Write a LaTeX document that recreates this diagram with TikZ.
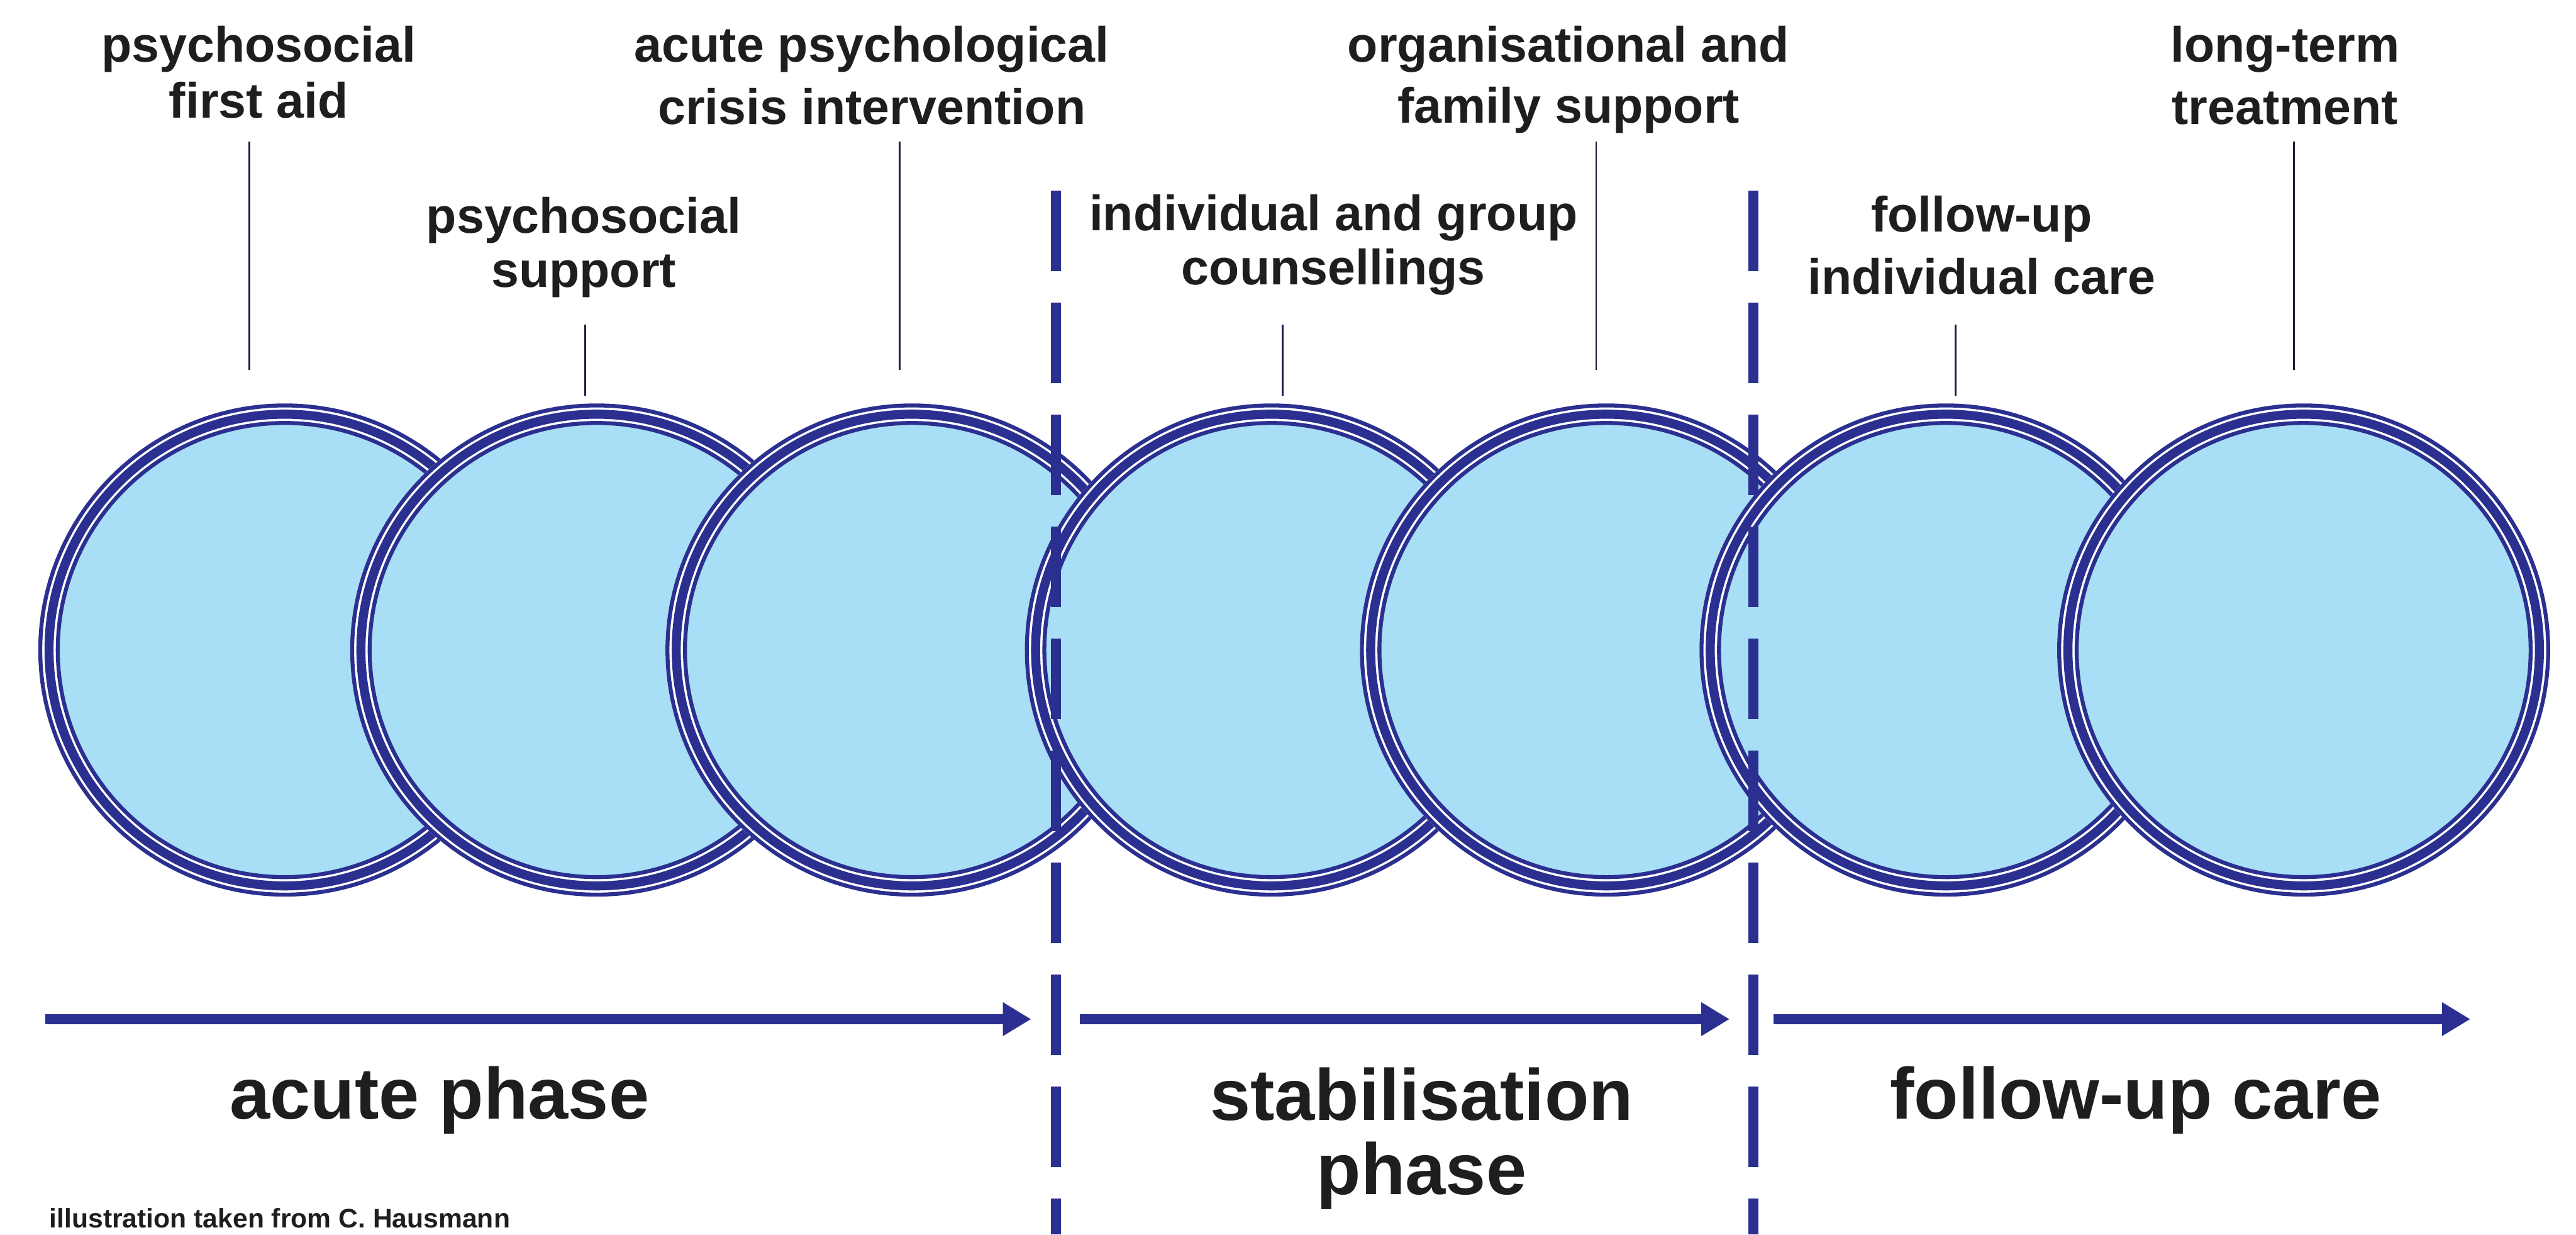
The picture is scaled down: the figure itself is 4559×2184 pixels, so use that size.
\documentclass[tikz,border=0pt]{standalone}
\usepackage{fontspec}
\setmainfont{Liberation Sans}
\usetikzlibrary{arrows.meta}
\definecolor{cblue}{HTML}{2B3090}
\definecolor{cfill}{HTML}{A8DEF6}
\definecolor{ink}{HTML}{1E1E1E}
\definecolor{tickc}{HTML}{1B1B4A}
\begin{document}
\begin{tikzpicture}[x=0.01cm, y=-0.01cm,
  lbl/.style={anchor=north, inner sep=0, align=center, text=ink, font=\bfseries\fontsize{25}{#1}\selectfont},
  big/.style={inner sep=0, align=center, text=ink, font=\bfseries\fontsize{36.5}{37.3}\selectfont},
  tickline/.style={draw=tickc, line width=0.03cm},
  phasearrow/.style={draw=cblue, line width=0.18cm, -{Triangle[length=0.5cm,width=0.56cm]}},
  divider/.style={draw=cblue, line width=0.18cm, dash pattern=on 1.43cm off 0.55cm},
  ring/.style={draw=cblue}]
\fill[white] (0,0) rectangle (4559,2184);
\useasboundingbox (0,0) rectangle (4559,2184);

% circles
\foreach \n/\x in {c1/504, c2/1056, c3/1614, c4/2250, c5/2843, c6/3444, c7/4077} {
  \node[circle, inner sep=0, minimum size=8.72cm, fill=white] (\n) at (\x,1150) {};
  \fill[cfill] (\n.center) circle[radius=4.015cm];
  \draw[ring, line width=0.07cm] (\n.center) circle[radius=4.325cm];
  \draw[ring, line width=0.16cm] (\n.center) circle[radius=4.17cm];
  \draw[ring, line width=0.07cm] (\n.center) circle[radius=4.015cm];
}

% labels
\node[lbl=28.2] (t1) at (458,45) {psychosocial\\first aid};
\node[lbl=27.3] (t2) at (1033,348) {psychosocial\\support};
\node[lbl=31.3] (t3) at (1543,45) {acute psychological\\crisis intervention};
\node[lbl=27.3] (t4) at (2360,343) {individual and group\\counsellings};
\node[lbl=30.7] (t5) at (2776,45) {organisational and\\family support};
\node[lbl=31.3] (t6) at (3507,346) {follow-up\\individual care};
\node[lbl=31.3] (t7) at (4044,45) {long-term\\treatment};

% label ticks
\coordinate (k1a) at (441,250);  \coordinate (k1b) at (441,654);
\coordinate (k2a) at (1036,574); \coordinate (k2b) at (1036,700);
\coordinate (k3a) at (1592,250); \coordinate (k3b) at (1592,654);
\coordinate (k4a) at (2270,574); \coordinate (k4b) at (2270,700);
\coordinate (k5a) at (2825,250); \coordinate (k5b) at (2825,654);
\coordinate (k6a) at (3461,574); \coordinate (k6b) at (3461,700);
\coordinate (k7a) at (4060,250); \coordinate (k7b) at (4060,654);
\foreach \i in {1,...,7} { \draw[tickline] (k\i a) -- (k\i b); }

% phase arrows
\coordinate (a1s) at (80,1803);   \coordinate (a1e) at (1825,1803);
\coordinate (a2s) at (1911,1803); \coordinate (a2e) at (3061,1803);
\coordinate (a3s) at (3139,1803); \coordinate (a3e) at (4372,1803);
\draw[phasearrow] (a1s) -- (a1e);
\draw[phasearrow] (a2s) -- (a2e);
\draw[phasearrow] (a3s) -- (a3e);

% dashed dividers
\coordinate (d1t) at (1869,337); \coordinate (d1b) at (1869,2184);
\coordinate (d2t) at (3103,337); \coordinate (d2b) at (3103,2184);
\draw[divider] (d1t) -- (d1b);
\draw[divider] (d2t) -- (d2b);

% phase names
\node[big, anchor=base] (p1) at (778,1980) {acute phase};
\node[big, anchor=north] (p2) at (2516,1888) {stabilisation\\phase};
\node[big, anchor=base] (p3) at (3780,1980) {follow-up care};

% source
\node[anchor=base west, inner sep=0, text=ink, font=\bfseries\fontsize{13.5}{16}\selectfont] (src) at (87,2172) {illustration taken from C. Hausmann};
\end{tikzpicture}
\end{document}
